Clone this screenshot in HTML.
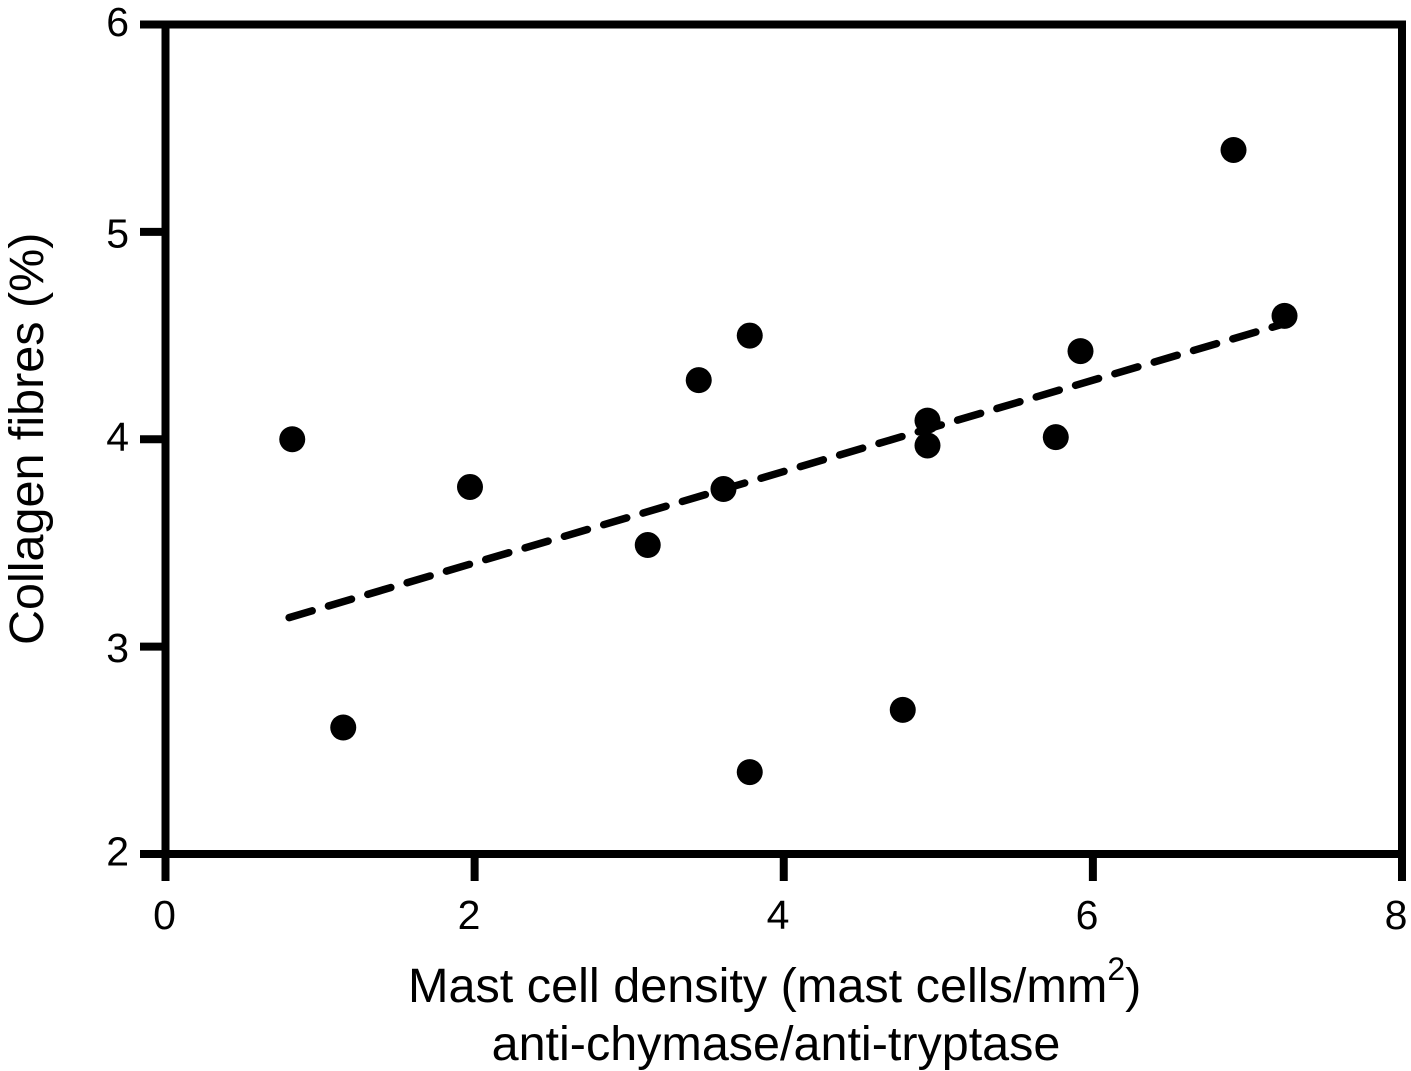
<!DOCTYPE html>
<html lang="en">
<head>
<meta charset="utf-8">
<title>Collagen fibres vs mast cell density</title>
<style>
html,body{margin:0;padding:0;background:#fff;}
svg{display:block;}
text{font-family:"Liberation Sans",sans-serif;fill:#000;}
</style>
</head>
<body>
<svg id="chart" xmlns="http://www.w3.org/2000/svg" width="1411" height="1071" viewBox="0 0 1411 1071">
  <rect width="1411" height="1071" fill="#fff"/>
  <g id="frame"></g>
  <g id="ticks"></g>
  <g id="trend"></g>
  <g id="points"></g>
  <text transform="translate(43 645) rotate(-90)" font-size="48.5">Collagen fibres (%)</text>
  <text x="408" y="1002" font-size="48.6">Mast cell density (mast cells/mm<tspan dy="-22" font-size="32">2</tspan><tspan dy="22">)</tspan></text>
  <text x="776" y="1060" font-size="48.5" text-anchor="middle">anti-chymase/anti-tryptase</text>
</svg>
<script>
const xTicks = [0, 2, 4, 6, 8];
const yTicks = [2, 3, 4, 5, 6];
const xValues = [0.82, 1.15, 1.97, 3.12, 3.45, 3.61, 3.78, 3.78, 4.77, 4.93, 4.93, 5.76, 5.92, 6.91, 7.24];
const yValues = [4.00, 2.61, 3.77, 3.49, 4.285, 3.76, 4.50, 2.395, 2.695, 4.09, 3.97, 4.01, 4.425, 5.395, 4.595];
const trendX = [0.8, 7.25];
const trendY = [3.14, 4.56];

const NS = 'http://www.w3.org/2000/svg';
const xScale = v => 165.5 + (v - 0) * (1402 - 165.5) / 8;
const yScale = v => 854 - (v - 2) * (854 - 24.5) / 4;
const xLabelScale = v => v ? 160 + v * 154.5 : 164.5;
const yLabelScale = v => yScale(v) + (v % 2 ? 15.5 : 11.5);

function make(tag, parent, attrs) {
  const el = document.createElementNS(NS, tag);
  for (const k in attrs) el.setAttribute(k, attrs[k]);
  parent.appendChild(el);
  return el;
}

const frame = document.getElementById('frame');
const ticks = document.getElementById('ticks');
const trend = document.getElementById('trend');
const points = document.getElementById('points');
const stroke = { stroke: '#000', 'stroke-width': 8, fill: 'none' };

const box = make('path', frame, Object.assign({
  d: 'M' + xScale(0) + ' ' + yScale(2) + 'H' + xScale(8) + 'V' + yScale(6) + 'H' + xScale(0) + 'Z',
  'stroke-linejoin': 'miter'
}, stroke));



xTicks.forEach(v => {
  const t = make('line', ticks, Object.assign({ x1: xScale(v), x2: xScale(v), y1: yScale(2), y2: 881 }, stroke));
  
  
  const l = make('text', ticks, { x: xLabelScale(v), y: 929, 'font-size': 41, 'text-anchor': 'middle' });
  
  
  l.textContent = v;
});

yTicks.forEach(v => {
  const t = make('line', ticks, Object.assign({ x1: 140, x2: xScale(0), y1: yScale(v), y2: yScale(v) }, stroke));
  
  
  const l = make('text', ticks, { x: 129, y: yLabelScale(v), 'font-size': 41, 'text-anchor': 'end' });
  
  
  l.textContent = v;
});

const fit = make('line', trend, {
  x1: xScale(trendX[0]), y1: yScale(trendY[0]),
  x2: xScale(trendX[1]), y2: yScale(trendY[1]),
  stroke: '#000', 'stroke-width': 7.5, 'stroke-dasharray': '24 17', 'stroke-linecap': 'round'
});



xValues.forEach((v, i) => {
  const c = make('circle', points, { cx: xScale(v), cy: yScale(yValues[i]), r: 13, fill: '#000' });
  
  
});
</script>
</body>
</html>
